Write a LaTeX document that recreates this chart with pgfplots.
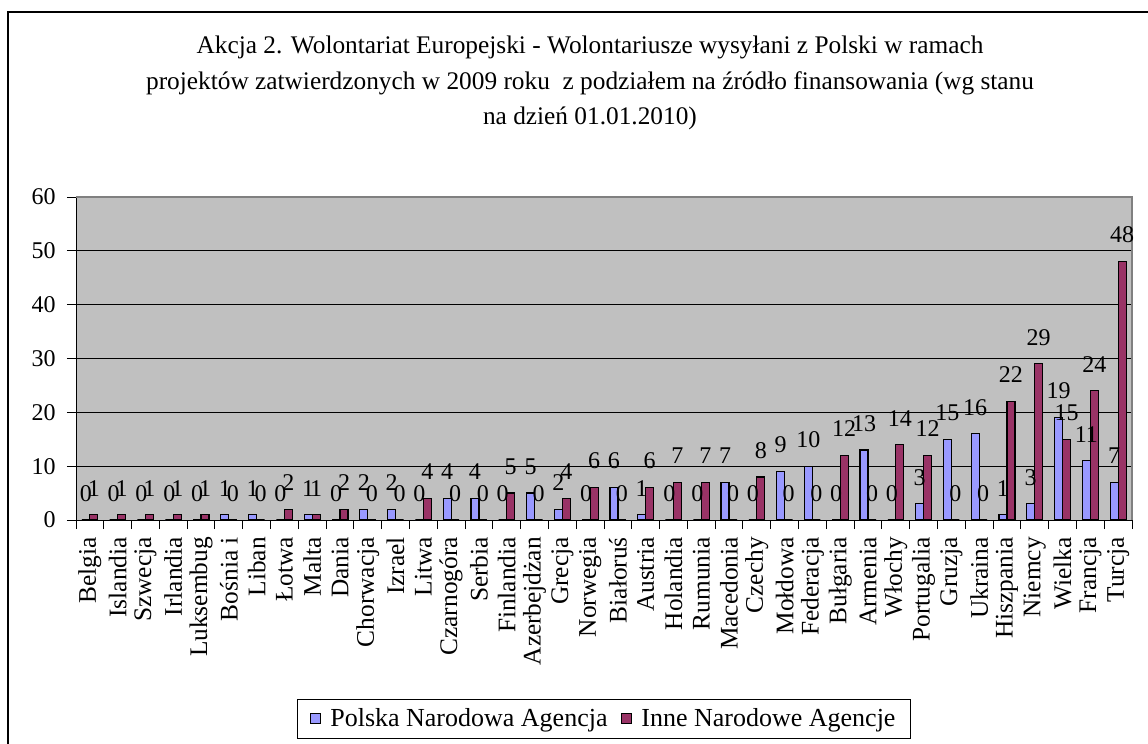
\documentclass[border=0pt]{standalone}
\usepackage{pgfplots}
\usepackage{pgfplotstable}
\pgfplotsset{compat=1.18}
\usepackage{fontspec}
\setmainfont{Liberation Serif}
\definecolor{pnablue}{HTML}{9999FF}
\definecolor{inared}{HTML}{993366}
\definecolor{plotbg}{HTML}{C0C0C0}

\pgfplotstableread{
x pna ina
0 0 1
1 0 1
2 0 1
3 0 1
4 0 1
5 1 0
6 1 0
7 0 2
8 1 1
9 0 2
10 2 0
11 2 0
12 0 4
13 4 0
14 4 0
15 0 5
16 5 0
17 2 4
18 0 6
19 6 0
20 1 6
21 0 7
22 0 7
23 7 0
24 0 8
25 9 0
26 10 0
27 0 12
28 13 0
29 0 14
30 3 12
31 15 0
32 16 0
33 1 22
34 3 29
35 19 15
36 11 24
37 7 48
}\datatable

\begin{document}
\begin{tikzpicture}[x=0.75pt,y=0.75pt]
\useasboundingbox (0,0) rectangle (1148,743);
\fill[white] (0,0) rectangle (1148,743);
\draw[black, line width=0.9pt] (8,-20) -- (8,731) -- (1170,731);
\node[align=center, font=\fontsize{19}{26.6}\selectfont] at (590,660)
  {Akcja 2. Wolontariat Europejski - Wolontariusze wysyłani z Polski w ramach\\
   projektów zatwierdzonych w 2009 roku~ z podziałem na źródło finansowania (wg stanu\\
   na dzień 01.01.2010)};
\begin{axis}[
  at={(57pt,167.25pt)}, anchor=south west,
  scale only axis,
  width=792pt, height=242.25pt,
  xmin=-0.5, xmax=37.5,
  ymin=0, ymax=60,
  ytick={0,10,...,60},
  axis background/.style={fill=plotbg},
  axis lines=left,
  axis line style={-, black, line width=0.75pt},
  ymajorgrids,
  grid style={black, line width=0.75pt},
  tick align=outside,
  major tick length=6.75pt,
  minor tick length=6.75pt,
  ytick style={black, line width=0.75pt},
  xtick=data,
  major x tick style={draw=none},
  minor xtick={-0.5,0.5,...,37.5},
  minor x tick style={black, line width=0.75pt},
  xticklabels={Belgia,Islandia,Szwecja,Irlandia,Luksembug,Bośnia i,Liban,Łotwa,Malta,Dania,Chorwacja,Izrael,Litwa,Czarnogóra,Serbia,Finlandia,Azerbejdżan,Grecja,Norwegia,Białoruś,Austria,Holandia,Rumunia,Macedonia,Czechy,Mołdowa,Federacja,Bułgaria,Armenia,Włochy,Portugalia,Gruzja,Ukraina,Hiszpania,Niemcy,Wielka,Francja,Turcja},
  xticklabel style={rotate=90, anchor=east, inner sep=0pt, font=\fontsize{19}{20}\selectfont},
  xticklabel shift=6pt,
  yticklabel style={font=\fontsize{18}{20}\selectfont, xshift=-5pt},
  /pgf/number format/assume math mode=true,
  ybar=0pt,
  bar width=6pt,
  nodes near coords,
  nodes near coords style={font=\fontsize{18}{20}\selectfont, inner sep=0pt, yshift=13.5pt, /pgf/number format/assume math mode=true},
  legend style={at={(0.5,-0.616)}, anchor=center, legend columns=2,
    draw=black, line width=0.75pt, font=\fontsize{19.5}{22}\selectfont,
    inner xsep=9pt, inner ysep=5pt,
    /tikz/every odd column/.append style={column sep=5pt},
    /tikz/every even column/.append style={column sep=8pt}},
  clip=false,
]
\addlegendimage{legend image code/.code={\draw[fill=pnablue, draw=black, line width=0.9pt] (0pt,-3.5pt) rectangle (7.5pt,4pt);}}
\addlegendimage{legend image code/.code={\draw[fill=inared, draw=black, line width=0.9pt] (0pt,-3.5pt) rectangle (7.5pt,4pt);}}
\addplot[fill=pnablue, draw=black, line width=0.9pt] table[x=x, y=pna] {\datatable};
\addplot[fill=inared, draw=black, line width=0.9pt] table[x=x, y=ina] {\datatable};
\legend{Polska Narodowa Agencja, Inne Narodowe Agencje}
\draw[gray, line width=0.9pt] (rel axis cs:0,1) -- (rel axis cs:1,1) -- (rel axis cs:1,0);
\end{axis}
\end{tikzpicture}
\end{document}
